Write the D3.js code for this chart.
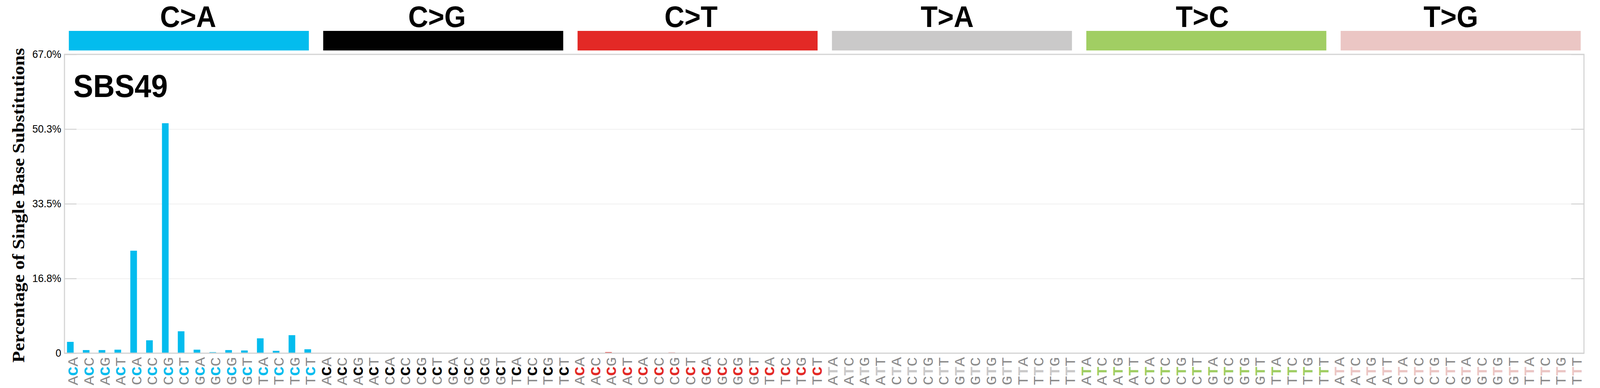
<!DOCTYPE html>
<html><head><meta charset="utf-8">
<script src="https://cdn.jsdelivr.net/npm/d3@7"></script>
<style>html,body{margin:0;padding:0;background:#fff;overflow:hidden;width:100%;height:100%} svg{display:block;width:100vw;height:100vh}</style>
</head><body>
<svg id="chart" viewBox="0 0 4393 992" preserveAspectRatio="none"></svg>
<script>
// ---------- data ----------
const signatureName = "SBS49";
const yTitle = "Percentage of Single Base Substitutions";
const mutationTypes = ["C>A","C>G","C>T","T>A","T>C","T>G"];
const typeColors = ["#03BCEE","#010101","#E32926","#CAC9C9","#A1CE63","#EBC6C4"];
const contexts = [
  "ACA","ACC","ACG","ACT","CCA","CCC","CCG","CCT","GCA","GCC","GCG","GCT","TCA","TCC","TCG","TCT",
  "ACA","ACC","ACG","ACT","CCA","CCC","CCG","CCT","GCA","GCC","GCG","GCT","TCA","TCC","TCG","TCT",
  "ACA","ACC","ACG","ACT","CCA","CCC","CCG","CCT","GCA","GCC","GCG","GCT","TCA","TCC","TCG","TCT",
  "ATA","ATC","ATG","ATT","CTA","CTC","CTG","CTT","GTA","GTC","GTG","GTT","TTA","TTC","TTG","TTT",
  "ATA","ATC","ATG","ATT","CTA","CTC","CTG","CTT","GTA","GTC","GTG","GTT","TTA","TTC","TTG","TTT",
  "ATA","ATC","ATG","ATT","CTA","CTC","CTG","CTT","GTA","GTC","GTG","GTT","TTA","TTC","TTG","TTT"
];
const valuesCA = [2.54,0.70,0.70,0.79,22.98,2.89,51.56,4.91,0.79,0.23,0.70,0.61,3.33,0.53,4.04,0.88];
const valuesCG = [0.08,0,0.08,0,0.08,0.08,0.08,0,0,0,0,0.08,0,0,0,0.08];
const valuesCT = [0.08,0.08,0.24,0.08,0.08,0.08,0.15,0.08,0,0,0.08,0.08,0,0.08,0.08,0.08];
const valuesTA = [0,0,0.05,0.05,0,0,0.05,0,0,0,0,0,0.05,0,0,0.05];
const valuesTC = [0.08,0,0.08,0.08,0,0,0,0,0,0,0,0,0,0,0,0.08];
const valuesTG = [0.05,0,0,0,0,0,0,0,0,0,0,0,0,0,0,0.05];
const yMax = 67.0;
const yTicks = [0, 16.75, 33.5, 50.25, 67.0];
const yTickLabels = ["0","16.8%","33.5%","50.3%","67.0%"];

// ---------- layout ----------
const plot = {left: 177, right: 4349, top: 139, bottom: 903};
const headerTextShift = [-2, -17, -18, -13, -11, -27];
const frameColor = "#d3d3d3";
const values = [].concat(valuesCA, valuesCG, valuesCT, valuesTA, valuesTC, valuesTG);
const svg = d3.select("#chart");

const x = d3.scaleBand().domain(d3.range(contexts.length)).range([plot.left, plot.right]).padding(0);
const step = x.step();
const y = d3.scaleLinear().domain([0, yMax]).range([plot.bottom, plot.top]);

// header bars
const hx = d3.scaleBand().domain(mutationTypes).range([189, 4340]).paddingInner(0.0564).paddingOuter(0);
const header = svg.append("g");
header.selectAll("rect").data(mutationTypes).join("rect")
  .attr("x", d => hx(d)).attr("y", 79).attr("width", hx.bandwidth()).attr("height", 50)
  .attr("fill", (d,i) => typeColors[i]);
header.selectAll("text").data(mutationTypes).join("text")
  .attr("x", (d,i) => hx(d) + hx.bandwidth()/2 + headerTextShift[i]).attr("y", 69)
  .attr("text-anchor", "middle")
  .style("font-family", "'Liberation Sans', Arial, sans-serif")
  .style("font-weight", "bold").style("font-size", "76px")
  .text(d => d);

// gridlines
svg.append("g").attr("transform", `translate(${plot.left},0)`)
  .call(d3.axisLeft(y).tickValues(yTicks).tickSize(-(plot.right - plot.left)).tickFormat(""))
  .call(g => g.select(".domain").remove())
  .call(g => g.selectAll("line").attr("stroke", "#ebebeb").attr("stroke-width", 1.5));

// bars
svg.append("g").selectAll("rect").data(values).join("rect")
  .attr("x", (d,i) => x(i) + step*0.16)
  .attr("width", step*0.42)
  .attr("y", d => y(d))
  .attr("height", d => plot.bottom - y(d))
  .attr("fill", (d,i) => typeColors[Math.floor(i/16)]);

// frame
svg.append("rect")
  .attr("x", plot.left).attr("y", plot.top)
  .attr("width", plot.right - plot.left).attr("height", plot.bottom - plot.top)
  .attr("fill", "none").attr("stroke", frameColor).attr("stroke-width", 3);

// left axis ticks (inside) + labels
svg.append("g").attr("transform", `translate(${plot.left},0)`)
  .call(d3.axisLeft(y).tickValues(yTicks).tickSizeInner(-33).tickSizeOuter(0).tickPadding(9)
        .tickFormat((d,i) => yTickLabels[i]))
  .call(g => g.select(".domain").remove())
  .call(g => g.selectAll("line").attr("stroke", frameColor).attr("stroke-width", 2.5))
  .call(g => g.selectAll("text").attr("fill", "#000")
        .style("font-family", "'Liberation Sans', Arial, sans-serif").style("font-size", "28px"));

// right axis ticks (inside)
svg.append("g").attr("transform", `translate(${plot.right},0)`)
  .call(d3.axisRight(y).tickValues(yTicks).tickSizeInner(-35).tickSizeOuter(0).tickFormat(""))
  .call(g => g.select(".domain").remove())
  .call(g => g.selectAll("line").attr("stroke", frameColor).attr("stroke-width", 2.5));

// x labels (rotated trinucleotides)
const labels = svg.append("g").selectAll("text").data(contexts).join("text")
  .attr("transform", (d,i) => `translate(${x(i) + step/2 + 2},985) rotate(-90)`)
  .attr("dy", "0.33em")
  .attr("text-anchor", "start")
  .style("font-family", "'Liberation Mono', 'Courier New', monospace")
  .style("font-size", "40px");
labels.append("tspan").attr("fill", "#8a8a8a").text(d => d[0]);
labels.append("tspan").attr("fill", (d,i) => typeColors[Math.floor(i/16)])
  .style("font-weight", "bold").text(d => d[1]);
labels.append("tspan").attr("fill", "#8a8a8a").text(d => d[2]);

// signature name
svg.append("text").attr("x", 201).attr("y", 248)
  .style("font-family", "'Liberation Sans', Arial, sans-serif")
  .style("font-weight", "bold").style("font-size", "82px")
  .text(signatureName);

// y title
svg.append("text").attr("transform", "translate(67,525) rotate(-90)")
  .attr("text-anchor", "middle")
  .style("font-family", "'Liberation Serif', 'Times New Roman', serif")
  .style("font-weight", "bold").style("font-size", "48px")
  .text(yTitle);
</script>
</body></html>
